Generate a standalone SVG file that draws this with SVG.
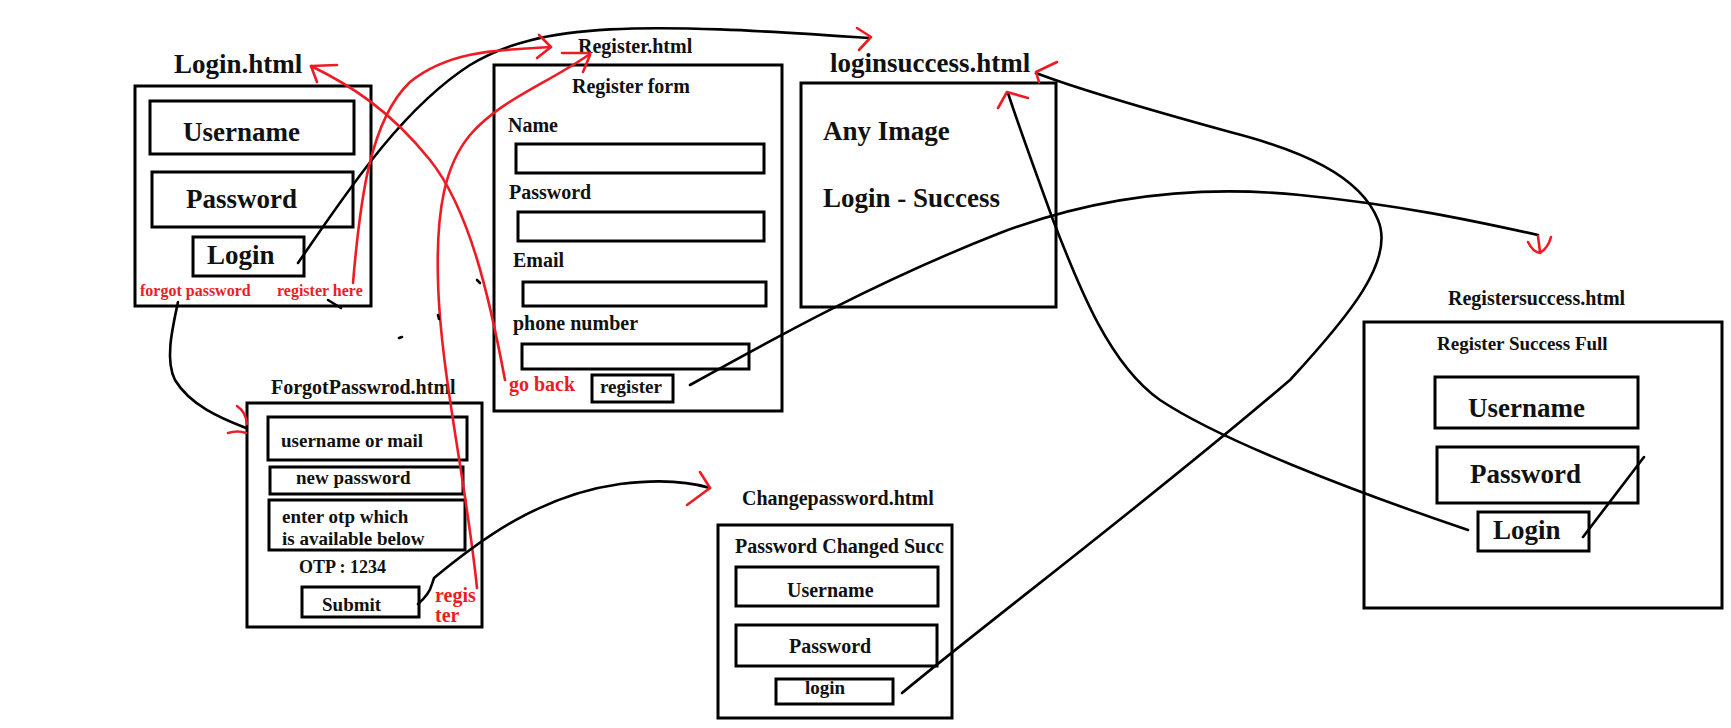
<svg xmlns="http://www.w3.org/2000/svg" width="1731" height="728" viewBox="0 0 1731 728">
<style>
  .bx{fill:none;stroke:#000;stroke-width:3}
  .t{font-family:"Liberation Serif","Times New Roman",serif;font-weight:bold;fill:#111}
  .r{fill:#ed1c24}
  .c{fill:none;stroke:#000;stroke-width:2.6;stroke-linecap:round}
  .rc{fill:none;stroke:#ed1c24;stroke-width:2.6;stroke-linecap:round;stroke-linejoin:round}
  .s27{font-size:27px}
  .s20{font-size:20px}
  .s19{font-size:19px}
  .s16{font-size:16px}
</style>
<rect width="1731" height="728" fill="#fff"/>

<g id="login">
  <text class="t s27" x="174" y="73">Login.html</text>
  <rect class="bx" x="135" y="86" width="236" height="220"/>
  <rect class="bx" x="150" y="101" width="204" height="53"/>
  <text class="t s27" x="183" y="141">Username</text>
  <rect class="bx" x="152" y="172" width="201" height="55"/>
  <text class="t s27" x="186" y="208">Password</text>
  <rect class="bx" x="193" y="237" width="111" height="39"/>
  <text class="t s27" x="207" y="264">Login</text>
  <text class="t s16 r" x="140" y="296">forgot password</text>
  <text class="t s16 r" x="277" y="296">register here</text>
</g>

<g id="register">
  <text class="t s20" x="578" y="53">Register.html</text>
  <rect class="bx" x="494" y="65" width="288" height="346"/>
  <text class="t s20" x="572" y="93">Register form</text>
  <text class="t s20" x="508" y="132">Name</text>
  <rect class="bx" x="516" y="144" width="248" height="29"/>
  <text class="t s20" x="509" y="199">Password</text>
  <rect class="bx" x="518" y="212" width="246" height="29"/>
  <text class="t s20" x="513" y="267">Email</text>
  <rect class="bx" x="523" y="282" width="243" height="24"/>
  <text class="t s20" x="513" y="330">phone number</text>
  <rect class="bx" x="522" y="344" width="227" height="25"/>
  <text class="t s20 r" x="509" y="391">go back</text>
  <rect class="bx" x="592" y="375" width="81" height="27"/>
  <text class="t s19" x="600" y="393">register</text>
</g>

<g id="loginsuccess">
  <text class="t s27" x="830" y="72">loginsuccess.html</text>
  <rect class="bx" x="801" y="83" width="255" height="224"/>
  <text class="t s27" x="823" y="140">Any Image</text>
  <text class="t s27" x="823" y="207">Login - Success</text>
</g>

<g id="forgotpassword">
  <text class="t s20" x="271" y="394">ForgotPasswrod.html</text>
  <rect class="bx" x="247" y="403" width="235" height="224"/>
  <rect class="bx" x="268" y="417" width="199" height="43"/>
  <text class="t s19" x="281" y="447">username or mail</text>
  <rect class="bx" x="270" y="467" width="193" height="27"/>
  <text class="t s19" x="296" y="484">new password</text>
  <rect class="bx" x="269" y="500" width="196" height="50"/>
  <text class="t s19" x="282" y="523">enter otp which</text>
  <text class="t s19" x="282" y="545">is available below</text>
  <text class="t" style="font-size:18px" x="299" y="573">OTP : 1234</text>
  <rect class="bx" x="302" y="587" width="117" height="30"/>
  <text class="t s19" x="322" y="611">Submit</text>
  <text class="t s20 r" x="435" y="602">regis</text>
  <text class="t s20 r" x="435" y="622">ter</text>
</g>

<g id="changepassword">
  <text class="t s20" x="742" y="505">Changepassword.html</text>
  <rect class="bx" x="718" y="525" width="234" height="193"/>
  <text class="t s20" x="735" y="553">Password Changed Succ</text>
  <rect class="bx" x="736" y="567" width="202" height="39"/>
  <text class="t s20" x="787" y="597">Username</text>
  <rect class="bx" x="736" y="625" width="201" height="41"/>
  <text class="t s20" x="789" y="653">Password</text>
  <rect class="bx" x="776" y="679" width="117" height="25"/>
  <text class="t s19" x="805" y="694">login</text>
</g>

<g id="registersuccess">
  <text class="t s20" x="1448" y="305">Registersuccess.html</text>
  <rect class="bx" x="1364" y="322" width="358" height="286"/>
  <text class="t s19" x="1437" y="350">Register Success Full</text>
  <rect class="bx" x="1435" y="377" width="203" height="51"/>
  <text class="t s27" x="1468" y="417">Username</text>
  <rect class="bx" x="1437" y="447" width="201" height="56"/>
  <text class="t s27" x="1470" y="483">Password</text>
  <rect class="bx" x="1478" y="512" width="111" height="39"/>
  <text class="t s27" x="1493" y="539">Login</text>
</g>

<g id="connectors">
  <!-- Login -> loginsuccess -->
  <path class="c" d="M298,263 C345,195 400,110 470,65 C540,22 640,22 869,38"/>
  <path class="rc" d="M857,28 L871,37 L859,50"/>
  <!-- register here -> Register.html -->
  <path class="rc" d="M353,283 C360,200 370,120 410,82 C450,50 500,50 551,47"/>
  <path class="rc" d="M539,35 L551,47 L537,58"/>
  <!-- go back -> Login.html -->
  <path class="rc" d="M505,380 C490,300 470,210 430,160 C390,110 350,85 311,66"/>
  <path class="rc" d="M317,82 L311,66 L337,65"/>
  <!-- regis ter -> Register.html -->
  <path class="rc" d="M477,588 C466,480 440,370 438,280 C436,210 445,165 470,135 C500,100 545,85 590,54"/>
  <path class="rc" d="M562,53 L590,53 M583,72 L590,55"/>
  <!-- forgot password -> ForgotPasswrod -->
  <path class="c" d="M178,302 C172,330 165,360 175,380 C190,405 220,418 246,428"/>
  <path class="rc" d="M237,406 Q246,412 247,424 M228,433 Q238,430 246,433"/>
  <!-- Submit -> Changepassword -->
  <path class="c" d="M418,604 C425,598 430,592 432,584 L434,578 C480,540 540,495 620,484 C660,479 690,482 710,488"/>
  <path class="rc" d="M700,472 L710,488 L687,505"/>
  <!-- Changepassword login -> loginsuccess.html -->
  <path class="c" d="M902,693 C990,620 1150,500 1290,380 C1350,315 1395,260 1378,220 C1360,175 1300,150 1230,132 C1150,110 1080,90 1036,73"/>
  <path class="rc" d="M1057,62 L1036,72 L1039,82"/>
  <!-- register -> Registersuccess -->
  <path class="c" d="M690,385 C780,335 880,280 1000,233 C1100,195 1200,185 1300,195 C1400,205 1470,220 1538,235"/>
  <path class="rc" d="M1538,236 L1540,252 M1528,242 Q1533,252 1540,253 Q1548,248 1551,237"/>
  <!-- Registersuccess Login -> loginsuccess -->
  <path class="c" d="M1468,530 C1350,490 1220,440 1160,400 C1110,365 1080,290 1053,220 C1035,170 1020,130 1008,93"/>
  <path class="rc" d="M998,108 L1007,92 L1028,98"/>
  <!-- stubs -->
  <path class="c" d="M1583,537 L1644,457"/>
  <path class="c" d="M328,300 L341,308"/>
  <path class="c" d="M477,280 L480,283 M438,315 L439,319 M399,338 L402,337"/>
</g>
</svg>
